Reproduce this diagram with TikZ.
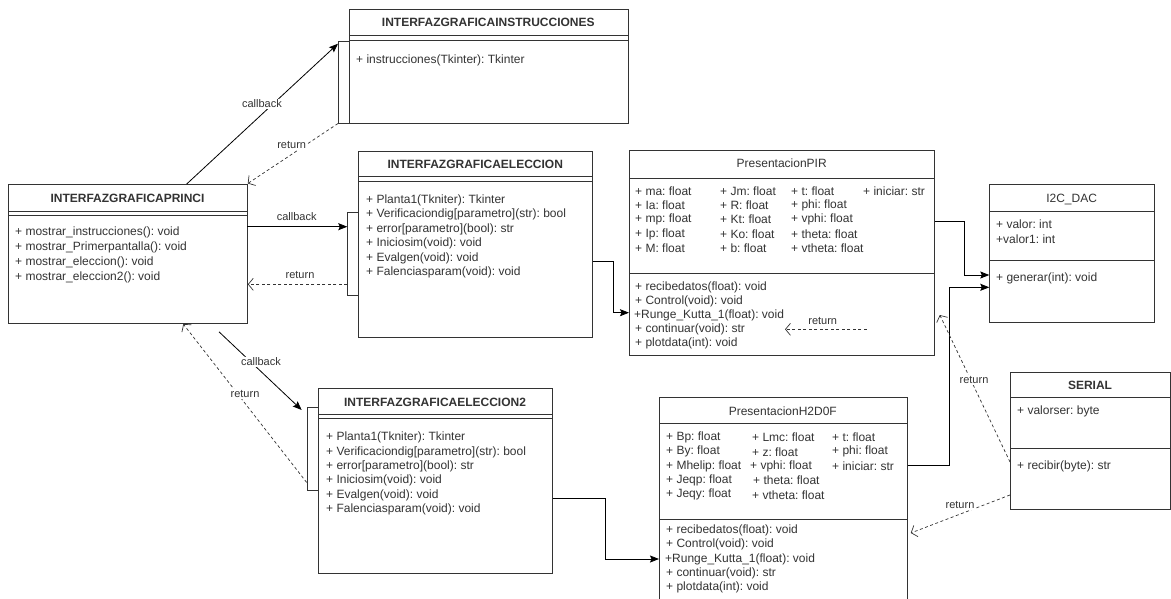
\documentclass[tikz,border=0pt]{standalone}
\usepackage{fontspec}
\setmainfont{Liberation Sans}
\usetikzlibrary{arrows.meta,calc}
\definecolor{ln}{HTML}{333333}
\frenchspacing
\tikzset{
  cls/.style={draw=ln, line width=0.8pt, rectangle, anchor=north west, inner sep=0pt, fill=white},
  sep/.style={draw=ln, line width=0.8pt},
  txt/.style={anchor=west, inner sep=0pt, text=ln, font=\fontsize{12}{14}\selectfont},
  ttl/.style={anchor=center, inner sep=0pt, text=ln, font=\fontsize{12}{14}\selectfont\bfseries},
  ttn/.style={anchor=center, inner sep=0pt, text=ln, font=\fontsize{12}{14}\selectfont},
  lbl/.style={inner sep=1pt, fill=white, text=ln, font=\fontsize{11}{13}\selectfont},
  call/.style={draw=black, line width=0.8pt, -{Stealth[length=9pt,width=7pt,inset=1.5pt]}},
  ret/.style={draw=ln, line width=0.7pt, dash pattern=on 3pt off 2.5pt, -{Straight Barb[length=5pt,width=12pt]}},
  conn/.style={draw=black, line width=0.8pt, -{Stealth[length=9pt,width=7pt,inset=1.5pt]}}
}
\begin{document}
\begin{tikzpicture}[x=1pt,y=-1pt]
\useasboundingbox (0,0) rectangle (1171,598);
\clip (0,0) rectangle (1171,598);

% ---------- INTERFAZGRAFICAPRINCI
\node[cls, minimum width=239pt, minimum height=139pt] (princi) at (8,184) {};
\draw[sep] (8,211.7) -- (247,211.7);
\draw[sep] (8,215) -- (247,215);
\node[ttl] (princiT) at (127.5,198) {INTERFAZGRAFICAPRINCI};
\node[txt] (p1) at (15,232.7) {+ mostrar\_instrucciones(): void};
\node[txt] (p2) at (15,247.7) {+ mostrar\_Primerpantalla(): void};
\node[txt] (p3) at (15,262.5) {+ mostrar\_eleccion(): void};
\node[txt] (p4) at (15,277.3) {+ mostrar\_eleccion2(): void};

% ---------- INTERFAZGRAFICAINSTRUCCIONES
\node[cls, minimum width=278.7pt, minimum height=113.4pt] (instr) at (349,9.3) {};
\node[cls, minimum width=11pt, minimum height=82pt] (instrbar) at (338,40.7) {};
\draw[sep] (349,35.7) -- (627.7,35.7);
\draw[sep] (349,40.7) -- (627.7,40.7);
\node[ttl] (instrT) at (488.3,22.5) {INTERFAZGRAFICAINSTRUCCIONES};
\node[txt] (i1) at (356,60.7) {+ instrucciones(Tkinter): Tkinter};

% ---------- INTERFAZGRAFICAELECCION
\node[cls, minimum width=234pt, minimum height=186pt] (elec) at (358.3,151) {};
\node[cls, minimum width=11pt, minimum height=83.3pt] (elecbar) at (347.3,211.7) {};
\draw[sep] (358.3,176.7) -- (592.3,176.7);
\draw[sep] (358.3,181.2) -- (592.3,181.2);
\node[ttl] (elecT) at (475.3,164) {INTERFAZGRAFICAELECCION};
\node[txt] (e1) at (366,200) {+ Planta1(Tkniter): Tkinter};
\node[txt] (e2) at (366,214.5) {+ Verificaciondig[parametro](str): bool};
\node[txt] (e3) at (366,229) {+ error[parametro](bool): str};
\node[txt] (e4) at (366,243.5) {+ Iniciosim(void): void};
\node[txt] (e5) at (366,258) {+ Evalgen(void): void};
\node[txt] (e6) at (366,272.5) {+ Falenciasparam(void): void};

% ---------- INTERFAZGRAFICAELECCION2
\node[cls, minimum width=233.4pt, minimum height=185pt] (elec2) at (318.3,388.3) {};
\node[cls, minimum width=11pt, minimum height=83.3pt] (elec2bar) at (307.3,406.7) {};
\draw[sep] (318.3,414.3) -- (551.7,414.3);
\draw[sep] (318.3,418.8) -- (551.7,418.8);
\node[ttl] (elec2T) at (435,402.3) {INTERFAZGRAFICAELECCION2};
\node[txt] (f1) at (326,437.7) {+ Planta1(Tkniter): Tkinter};
\node[txt] (f2) at (326,452) {+ Verificaciondig[parametro](str): bool};
\node[txt] (f3) at (326,466.3) {+ error[parametro](bool): str};
\node[txt] (f4) at (326,480.7) {+ Iniciosim(void): void};
\node[txt] (f5) at (326,495) {+ Evalgen(void): void};
\node[txt] (f6) at (326,509.3) {+ Falenciasparam(void): void};

% ---------- PresentacionPIR
\node[cls, minimum width=305.3pt, minimum height=205pt] (pir) at (629,150) {};
\draw[sep] (629,178) -- (934.3,178);
\draw[sep] (629,273.3) -- (934.3,273.3);
\node[ttn] (pirT) at (781.7,163) {PresentacionPIR};
\node[txt] (a11) at (635,191) {+ ma: float};
\node[txt] (a12) at (635,205.3) {+ Ia: float};
\node[txt] (a13) at (635,219.6) {+ mp: float};
\node[txt] (a14) at (635,234) {+ Ip: float};
\node[txt] (a15) at (635,248.3) {+ M: float};
\node[txt] (a21) at (720,191) {+ Jm: float};
\node[txt] (a22) at (720,205.3) {+ R: float};
\node[txt] (a23) at (720,219.6) {+ Kt: float};
\node[txt] (a24) at (720,234) {+ Ko: float};
\node[txt] (a25) at (720,248.3) {+ b: float};
\node[txt] (a31) at (791,191) {+ t: float};
\node[txt] (a32) at (791,205.3) {+ phi: float};
\node[txt] (a33) at (791,219.6) {+ vphi: float};
\node[txt] (a34) at (791,234) {+ theta: float};
\node[txt] (a35) at (791,248.3) {+ vtheta: float};
\node[txt] (a41) at (863,191) {+ iniciar: str};
\node[txt] (m1) at (635,287) {+ recibedatos(float): void};
\node[txt] (m2) at (635,301) {+ Control(void): void};
\node[txt] (m3) at (634,315) {+Runge\_Kutta\_1(float): void};
\node[txt] (m4) at (635,329) {+ continuar(void): str};
\node[txt] (m5) at (635,343) {+ plotdata(int): void};

% ---------- I2C_DAC
\node[cls, minimum width=164.7pt, minimum height=138pt] (i2c) at (989.3,184.3) {};
\draw[sep] (989.3,211.7) -- (1154,211.7);
\draw[sep] (989.3,260) -- (1154,260);
\node[ttn] (i2cT) at (1071.6,199) {I2C\_DAC};
\node[txt] (d1) at (996,223.8) {+ valor: int};
\node[txt] (d2) at (996,238.8) {+valor1: int};
\node[txt] (d3) at (996,278.3) {+ generar(int): void};

% ---------- SERIAL
\node[cls, minimum width=160.3pt, minimum height=137.3pt] (serial) at (1010,371.7) {};
\draw[sep] (1010,397.7) -- (1170.3,397.7);
\draw[sep] (1010,448.3) -- (1170.3,448.3);
\node[ttl] (serialT) at (1090,385) {SERIAL};
\node[txt] (s1) at (1017,411.7) {+ valorser: byte};
\node[txt] (s2) at (1017,466) {+ recibir(byte): str};

% ---------- PresentacionH2D0F
\node[cls, minimum width=247.7pt, minimum height=215pt] (h2) at (659,396.7) {};
\draw[sep] (659,423.3) -- (906.7,423.3);
\draw[sep] (659,519) -- (906.7,519);
\node[ttn] (h2T) at (782.8,411.7) {PresentacionH2D0F};
\node[txt] (b11) at (666,437.5) {+ Bp: float};
\node[txt] (b12) at (666,451.8) {+ By: float};
\node[txt] (b13) at (666,466.2) {+ Mhelip: float};
\node[txt] (b14) at (666,480.5) {+ Jeqp: float};
\node[txt] (b15) at (666,494.8) {+ Jeqy: float};
\node[txt] (b21) at (752,437.5) {+ Lmc: float};
\node[txt] (b22) at (752,451.8) {+ z: float};
\node[txt] (b23) at (750,466.2) {+ vphi: float};
\node[txt] (b24) at (753,480.5) {+ theta: float};
\node[txt] (b25) at (752,494.8) {+ vtheta: float};
\node[txt] (b31) at (832,437.5) {+ t: float};
\node[txt] (b32) at (832,451.8) {+ phi: float};
\node[txt] (b33) at (832,466.2) {+ iniciar: str};
\node[txt] (n1) at (666,530.5) {+ recibedatos(float): void};
\node[txt] (n2) at (666,544.8) {+ Control(void): void};
\node[txt] (n3) at (665,559) {+Runge\_Kutta\_1(float): void};
\node[txt] (n4) at (666,573.3) {+ continuar(void): str};
\node[txt] (n5) at (666,587.6) {+ plotdata(int): void};

% ---------- connectors
% PRINCI <-> INSTRUCCIONES
\draw[call] ($(princi.north west)+(178.7,0)$) -- ($(instrbar.north west)+(0,3)$);
\node[lbl] (cb1) at (262,104) {callback};
\draw[ret] (instrbar.south west) -- ($(princi.north east)+(0,-0.5)$);
\node[lbl] (rt1) at (291.7,145) {return};

% PRINCI <-> ELECCION
\draw[call] ($(princi.north west)+(239,42.7)$) -- ($(elecbar.north west)+(0,15)$);
\node[lbl, fill=none] (cb2) at (296.7,217) {callback};
\draw[ret] ($(elecbar.north west)+(0,72.6)$) -- ($(princi.north east)+(0,100.3)$);
\node[lbl, fill=none] (rt2) at (300,275) {return};

% PRINCI <-> ELECCION2
\draw[call] ($(princi.south west)+(211,8)$) -- ($(elec2bar.north west)+(-5.6,3.3)$);
\node[lbl] (cb3) at (261,361.7) {callback};
\draw[ret] ($(elec2bar.south west)+(-0.6,-8.3)$) -- ($(princi.south west)+(175.3,0.3)$);
\node[lbl] (rt3) at (245,394) {return};

% ELECCION -> PIR
\draw[conn] ($(elec.north east)+(0,110)$) -- ++(20,0) |- ($(pir.north west)+(0,162.7)$);
% ELECCION2 -> H2D0F
\draw[conn] ($(elec2.north east)+(0,110)$) -- ++(53.3,0) |- ($(h2.north west)+(0,162.3)$);
% PIR -> I2C
\draw[conn] ($(pir.north east)+(0,71.7)$) -- ++(29,0) |- ($(i2c.north west)+(0,90.7)$);
% H2D0F -> I2C
\draw[conn] ($(h2.north east)+(0,69)$) -- ++(41.6,0) |- ($(i2c.north west)+(0,103)$);

% return inside PIR
\coordinate (rs) at (866.7,329.3);
\coordinate (re) at (785,329.3);
\draw[ret] (rs) -- (re);
\node[lbl, fill=none] (rt4) at (822.7,320.7) {return};

% SERIAL -> PIR return
\draw[ret] ($(serial.north west)+(0,90.3)$) -- ($(pir.north east)+(4.7,165)$);
\node[lbl] (rt5) at (974,380) {return};

% SERIAL -> H2D0F return
\draw[ret] ($(serial.north west)+(0,123.3)$) -- ($(h2.north east)+(3.3,136.3)$);
\node[lbl] (rt6) at (960,505) {return};
\end{tikzpicture}
\end{document}
